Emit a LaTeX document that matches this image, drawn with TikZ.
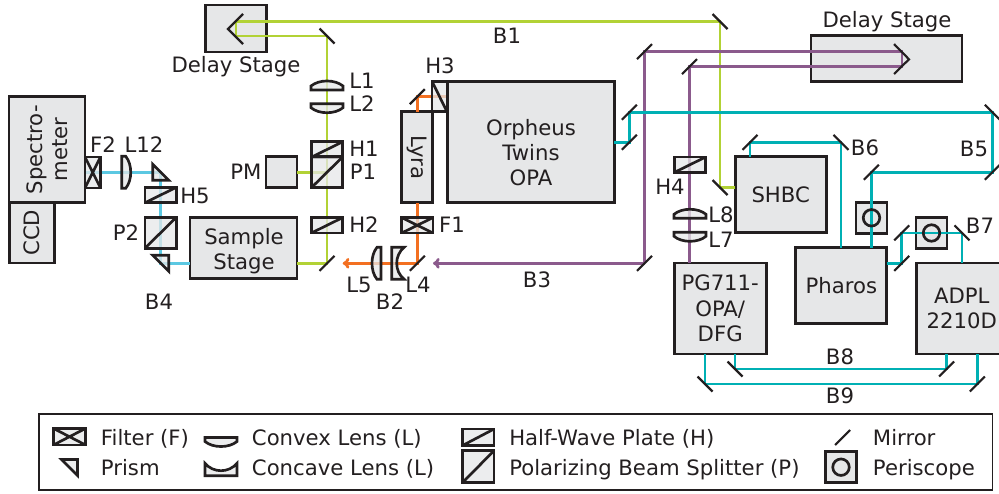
\documentclass[tikz,border=0pt]{standalone}
\usepackage{fontspec}
\setmainfont{DejaVu Sans}
\usetikzlibrary{arrows.meta}
\newcommand{\px}{0.75pt}
\definecolor{inkline}{HTML}{231F20}
\definecolor{boxgray}{HTML}{E6E7E8}
\definecolor{lime}{HTML}{B2D235}
\definecolor{sky}{HTML}{5BC8E2}
\definecolor{tealbeam}{HTML}{00B0B4}
\definecolor{plum}{HTML}{8B5A8C}
\definecolor{amber}{HTML}{F37021}
\tikzset{
  boxsize/.style 2 args={minimum width=#1*\px,minimum height=#2*\px},
  convexlens/.pic={\draw[optic] (-16,0) -- (16,0) -- (16,-4) .. controls (8,-10.7) and (-8,-10.7) .. (-16,-4) -- cycle;},
  concavelens/.pic={\draw[optic] (-16,0) -- (16,0) -- (16,-12.5) .. controls (8,-2.5) and (-8,-2.5) .. (-16,-12.5) -- cycle;},
  prism/.pic={\draw[optic] (-8,-8) -- (8,-8) -- (8,8) -- cycle;}
}
\begin{document}
\begin{tikzpicture}[x=0.75pt,y=-0.75pt,>={To[length=5pt,width=8pt]},text=inkline,
    font=\fontsize{15.9}{19}\selectfont]
        \tikzstyle{box}=[draw=inkline,fill=boxgray,line width=2pt,inner sep=0pt,outer sep=0pt,align=center]
        \tikzstyle{optic}=[draw=inkline,fill=boxgray,fill opacity=0.75,line width=2pt,line join=miter]
        \tikzstyle{plate}=[optic,inner sep=0pt,outer sep=0pt]
        \tikzstyle{hwp}=[plate,path picture={\draw[inkline,line width=2pt] (path picture bounding box.south west) -- (path picture bounding box.north east);}]
        \tikzstyle{hwpback}=[plate,path picture={\draw[inkline,line width=2pt] (path picture bounding box.north west) -- (path picture bounding box.south east);}]
        \tikzstyle{filter}=[plate,path picture={\draw[inkline,line width=2pt] (path picture bounding box.south west) -- (path picture bounding box.north east) (path picture bounding box.north west) -- (path picture bounding box.south east);}]
        \tikzstyle{ring}=[circle,draw=inkline,line width=2pt,inner sep=0pt,minimum size=16.5*\px]
        \tikzstyle{mirror}=[draw=inkline,line width=1.6pt]
        \tikzstyle{beam}=[line width=2.1pt]
        \tikzstyle{lbl}=[inner sep=0pt,align=center]
        \tikzstyle{key}=[inner sep=0pt,anchor=base west]

        \useasboundingbox (0,0) rectangle (999,493);
        \clip (0,0) rectangle (999,493);

        % instruments
        \node[box,boxsize={61}{47}]   (DS1)      at (236.2,28.5)  { };
        \node[box,boxsize={151}{46}]  (DS2)      at (886.6,58.8)  { };
        \node[box,boxsize={106}{76},rotate=90]  (Spectro) at (47,149.7) {Spectro-\\meter};
        \node[box,boxsize={60.5}{45},rotate=90] (CCD)  at (31.7,232.8) {CCD};
        \node[box,boxsize={31}{31}]   (PM)       at (281.5,172.3) { };
        \node[box,boxsize={107}{61}]  (Sample)   at (243.6,247.8) { };
        \node[box,boxsize={91}{31},rotate=-90]  (Lyra) at (417.3,157.3) {Lyra};
        \node[box,boxsize={167}{121}] (Orpheus)  at (530.8,142.2) { };
        \node[box,boxsize={91}{76}]   (SHBC)     at (780.7,194.7) {SHBC};
        \node[box,boxsize={91}{76}]   (Pharos)   at (841.3,285.8) {Pharos};
        \node[box,boxsize={92}{91}]   (PG711)    at (720.2,308.5) {PG711-\\OPA/\\DFG};
        \node[box,boxsize={90}{91}]   (ADPL)     at (961.7,308.5) {ADPL\\2210D};
        \node[box,boxsize={31}{31}]   (Peri1)    at (871.5,217.8) { };
        \node[box,boxsize={31}{31}]   (Peri2)    at (931.5,233)   { };

        % mirror positions
        \coordinate (MG1) at (327,36);
        \coordinate (MG2) at (720,21.5);
        \coordinate (MG3) at (720,187.5);
        \coordinate (MG4) at (327,263.3);
        \coordinate (MO1) at (417.3,263.3);
        \coordinate (MO2) at (417.3,96.7);
        \coordinate (MP1) at (644.5,263.3);
        \coordinate (MP2) at (644.5,51.7);
        \coordinate (MP3) at (689.5,66.7);
        \coordinate (MT1) at (629.3,142.3);
        \coordinate (MT2) at (629.3,112.3);
        \coordinate (MT3) at (992.3,112.3);
        \coordinate (MT4) at (992.3,172.3);
        \coordinate (MT5) at (871.3,172.3);
        \coordinate (MT6) at (841,142.3);
        \coordinate (MT7) at (750,142.3);
        \coordinate (MT8) at (901.7,263.3);
        \coordinate (MT9) at (901.7,232.9);
        \coordinate (MT10) at (962,232.9);
        \coordinate (MT11) at (735,369);
        \coordinate (MT12) at (946.7,369);
        \coordinate (MT13) at (705,384);
        \coordinate (MT14) at (977.3,384);
        \coordinate (RG1) at (236,21.5);
        \coordinate (RG2) at (236,36);
        \coordinate (RP1) at (902,51.7);
        \coordinate (RP2) at (902,66.7);
        \coordinate (CG0) at (228,29);
        \coordinate (CG1) at (243,14);
        \coordinate (CG2) at (243,44);
        \coordinate (CP0) at (909,59.3);
        \coordinate (CP1) at (894,44);
        \coordinate (CP2) at (894,74);
        \coordinate (PS1) at (160.7,172.3);
        \coordinate (PS2) at (160.7,263.3);
        \coordinate (TipO) at (342.7,263.3);
        \coordinate (TipP) at (433,263.3);

        % beams
        \draw[beam,lime]     (MG1) -- (RG2) -- (RG1) -- (MG2) -- (MG3) -- (SHBC.west |- MG3);
        \draw[beam,lime]     (MG1) -- (MG4) -- (Sample.east |- MG4);
        \draw[beam,lime]     (PM.east) -- (PM.east -| MG1);
        \draw[beam,amber]    (Orpheus.west |- MO2) -- (MO2) -- (Lyra.west);
        \draw[beam,amber,->] (Lyra.east) -- (MO1) -- (TipO);
        \draw[beam,plum,->]  (MP1) -- (TipP);
        \draw[beam,plum]     (MP1) -- (MP2) -- (RP1) -- (RP2) -- (MP3) -- (PG711.north -| MP3);
        \draw[beam,sky]      (Spectro.south |- PS1) -- (PS1) -- (PS2) -- (Sample.west |- PS2);
        \draw[beam,tealbeam] (Orpheus.east |- MT1) -- (MT1) -- (MT2) -- (MT3) -- (MT4) -- (MT5) -- (Pharos.north -| MT5);
        \draw[beam,tealbeam] (SHBC.north -| MT7) -- (MT7) -- (MT6) -- (Pharos.north -| MT6);
        \draw[beam,tealbeam] (Pharos.east |- MT8) -- (MT8) -- (MT9) -- (MT10) -- (ADPL.north -| MT10);
        \draw[beam,tealbeam] (PG711.south -| MT11) -- (MT11) -- (MT12) -- (ADPL.south -| MT12);
        \draw[beam,tealbeam] (PG711.south -| MT13) -- (MT13) -- (MT14) -- (ADPL.south -| MT14);

        % optics
        \node[hwp,boxsize={31.5}{15.5}]    (H1) at (327,149.5)   { };
        \node[hwp,boxsize={31.5}{31}]      (P1) at (327,172.3)   { };
        \node[hwp,boxsize={31.5}{15.5}]    (H2) at (327,225.3)   { };
        \node[hwpback,boxsize={15}{30.5}]  (H3) at (439.5,96.5)  { };
        \node[hwp,boxsize={31.5}{15.5}]    (H4) at (690,164.7)   { };
        \node[hwp,boxsize={31.5}{15.5}]    (H5) at (160.7,195)   { };
        \node[hwp,boxsize={31.5}{31}]      (P2) at (160.7,232.7) { };
        \node[filter,boxsize={31.5}{15.5}] (F1) at (417.3,225.3) { };
        \node[filter,boxsize={15.5}{31}]   (F2) at (92.7,172.4)  { };
        \pic at (327,90) {convexlens};
        \pic[rotate=180] at (327,103.7) {convexlens};
        \pic at (690,218.3) {convexlens};
        \pic[rotate=180] at (690,232.3) {convexlens};
        \pic[rotate=-90] at (121.7,172.3) {convexlens};
        \pic[rotate=90] at (381,263.3) {convexlens};
        \pic[rotate=-90] at (391.7,263.3) {concavelens};
        \pic[rotate=180] at (PS1) {prism};
        \pic at (PS2) {prism};
        \node[ring] (Ring1) at (Peri1) { };
        \node[ring] (Ring2) at (Peri2) { };

        % mirrors
        \foreach \m in {MG4,MO1,MO2,MP1,MP2,MP3,MT1,MT2,MT4,MT5,MT7,MT8,MT9,MT12,MT14}
            \draw[mirror] ([shift={(-7.5,7.5)}]\m) -- ([shift={(7.5,-7.5)}]\m);
        \foreach \m in {MG1,MG2,MG3,MT3,MT6,MT10,MT11,MT13}
            \draw[mirror] ([shift={(-7.5,-7.5)}]\m) -- ([shift={(7.5,7.5)}]\m);
        \draw[mirror] (CG1) -- (CG0) -- (CG2);
        \draw[mirror] (CP1) -- (CP0) -- (CP2);

        % labels
        \node[lbl] (TDS1) at (236,67)   {Delay Stage};
        \node[lbl] (TDS2) at (887,22)   {Delay Stage};
        \node[lbl] (TOrp) at (531,152.5) {Orpheus\\Twins\\OPA};
        \node[lbl] (TSmp) at (244,251)  {Sample\\Stage};
        \node[lbl] (TB1)  at (507,36)   {B1};
        \node[lbl] (TB2)  at (390,302)  {B2};
        \node[lbl] (TB3)  at (537,280)  {B3};
        \node[lbl] (TB4)  at (159,302)  {B4};
        \node[lbl] (TB5)  at (974,149)  {B5};
        \node[lbl] (TB6)  at (865,148)  {B6};
        \node[lbl] (TB7)  at (980,226)  {B7};
        \node[lbl] (TB8)  at (840,357)  {B8};
        \node[lbl] (TB9)  at (840,396)  {B9};
        \node[lbl] (TL1)  at (362,81)   {L1};
        \node[lbl] (TL2)  at (362,104)  {L2};
        \node[lbl] (TL4)  at (418,285)  {L4};
        \node[lbl] (TL5)  at (359,285)  {L5};
        \node[lbl] (TL7)  at (721,240)  {L7};
        \node[lbl] (TL8)  at (721,215)  {L8};
        \node[lbl] (TL12) at (144,145)  {L12};
        \node[lbl] (TH1)  at (364,149)  {H1};
        \node[lbl] (TH2)  at (364,225)  {H2};
        \node[lbl] (TH3)  at (440,66)   {H3};
        \node[lbl] (TH4)  at (670,187)  {H4};
        \node[lbl] (TH5)  at (195,196)  {H5};
        \node[lbl] (TP1)  at (363,172)  {P1};
        \node[lbl] (TP2)  at (126,233)  {P2};
        \node[lbl] (TF1)  at (452,225)  {F1};
        \node[lbl] (TF2)  at (103,145)  {F2};
        \node[lbl] (TPM)  at (246,172)  {PM};

        % legend
        \node[draw=inkline,line width=0.9pt,boxsize={953.7}{76}] (Legend) at (515.8,452) { };
        \node[filter,boxsize={32}{16.5}] (KF) at (69.5,436.7) { };
        \node[hwp,boxsize={31.5}{16.5}]  (KH) at (478.2,437.3) { };
        \node[hwp,boxsize={31.5}{32}]    (KP) at (478.2,466.7) { };
        \node[box,boxsize={31.5}{31}]    (KO) at (841,467.2) { };
        \node[ring]                      (KR) at (KO) { };
        \pic at (69.5,467.5) {prism};
        \pic[rotate=180] at (221,437.5) {convexlens};
        \pic at (221,475.7) {concavelens};
        \coordinate (KM) at (842.5,437.5);
        \draw[mirror] ([shift={(-7.5,7.5)}]KM) -- ([shift={(7.5,-7.5)}]KM);
        \node[key] (KT1) at (100.7,445)  {Filter (F)};
        \node[key] (KT2) at (100.7,475)  {Prism};
        \node[key] (KT3) at (251.7,445)  {Convex Lens (L)};
        \node[key] (KT4) at (251.7,475)  {Concave Lens (L)};
        \node[key] (KT5) at (509,445)    {Half-Wave Plate (H)};
        \node[key] (KT6) at (509,475)    {Polarizing Beam Splitter (P)};
        \node[key] (KT7) at (872.7,445)  {Mirror};
        \node[key] (KT8) at (872.7,475)  {Periscope};
\end{tikzpicture}
\end{document}
